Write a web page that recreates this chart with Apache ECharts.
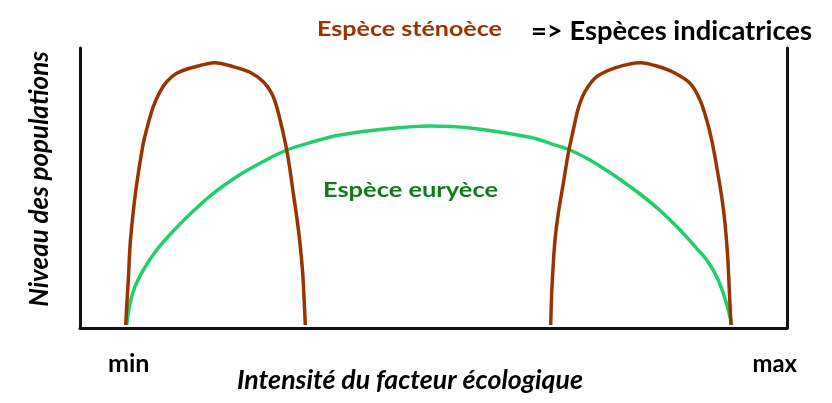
<!DOCTYPE html>
<html><head><meta charset="utf-8">
<script src="https://cdn.jsdelivr.net/npm/echarts@6/dist/echarts.min.js"></script>
<style>html,body{margin:0;padding:0;background:#fff}#c{width:832px;height:403px}</style>
</head><body><div id="c"></div>
<script>
// Data (x: intensity units, y: population level)
const stenoLeft = [[45.7,3],[46.7,21.3],[48.3,48],[50,81.3],[51.7,101.3],[55,131.3],[58.3,154.7],[63.3,184.7],[68.3,204.7],[73.3,221.3],[80,236.3],[86.7,246.3],[96.7,254.7],[113.3,260.7],[135,265.3],[153.3,261.3],[170,255.7],[183.3,246.3],[191.7,234.7],[196.7,221.3],[201.7,201.3],[206.7,178],[210,158],[213.3,134.7],[216.7,111.3],[220,84.7],[222.7,54.7],[224.3,24.7],[225.3,3]];
const stenoRight = [[470.7,3],[471.7,34.7],[473.3,64.7],[475,88],[478.3,114.7],[483.3,144.7],[488.3,174.7],[493.3,198],[498.3,219.7],[505,236.3],[516.7,251.3],[536.7,260.7],[560.7,265.3],[576.7,262],[593.3,255.7],[610,244.7],[620,228],[626.7,208],[631.7,188],[636.7,161.3],[641.7,131.3],[645,104.7],[647.7,71.3],[649.3,38],[651,3]];
const eury = [[46.7,3],[50,24.7],[55,41.3],[63.3,58],[76.7,78],[93.3,97],[113.3,117],[133.3,134.7],[156.7,151.3],[180,164.7],[206.7,178],[233.3,186.3],[260,193],[310,199.5],[350,202],[390,200],[450,190.7],[470,184.7],[490,178],[506.7,169.7],[523.3,159.7],[543.3,146.3],[560,134],[580,117.5],[600,98],[616.7,79.7],[626.7,68],[636.7,51.3],[643.3,34.7],[648.3,18],[651.7,3]];
const xRange = [0, 707];
const yRange = [0, 280];
const labels = {
  steno: 'Espèce sténoèce',
  indic: '=> Espèces indicatrices',
  eury: 'Espèce euryèce',
  min: 'min', max: 'max',
  xName: 'Intensité du facteur écologique',
  yName: 'Niveau des populations'
};

const FONT = 'Lato';
const brown = '#993300';
const green = '#1fcf6a';
const ctx = document.createElement('canvas').getContext('2d');
function fit(text, font, size, left, baseline, right, fill) {
  const f = font + ' ' + size + 'px ' + FONT;
  ctx.font = f;
  const w = ctx.measureText(text).width;
  return {type:'text', x:left, y:baseline - 0.36*size, scaleX:(right-left)/w, originX:0,
    style:{text:text, font:f, fill:fill, align:'left', verticalAlign:'middle'}};
}
const chart = echarts.init(document.getElementById('c'));
const axisLine = {show:true, lineStyle:{color:'#111', width:3}};
chart.setOption({
  animation:false,
  grid:{left:80, right:45, top:48, bottom:75},
  xAxis:{type:'value', min:xRange[0], max:xRange[1], axisLine:axisLine, axisTick:{show:false}, axisLabel:{show:false}, splitLine:{show:false}},
  yAxis:[
    {type:'value', min:yRange[0], max:yRange[1], position:'left', axisLine:axisLine, axisTick:{show:false}, axisLabel:{show:false}, splitLine:{show:false}},
    {type:'value', min:yRange[0], max:yRange[1], position:'right', axisLine:axisLine, axisTick:{show:false}, axisLabel:{show:false}, splitLine:{show:false}}
  ],
  series:[
    {type:'line', data:eury, smooth:0.35, showSymbol:false, lineStyle:{color:green, width:3.5}},
    {type:'line', data:stenoLeft, smooth:0.3, showSymbol:false, lineStyle:{color:brown, width:3.5}},
    {type:'line', data:stenoRight, smooth:0.3, showSymbol:false, lineStyle:{color:brown, width:3.5}}
  ],
  graphic:[
    fit(labels.steno, 'bold', 21, 317, 37, 502, '#993300'),
    fit(labels.indic, 'bold', 26, 531, 41, 812, '#000'),
    fit(labels.eury, 'bold', 21, 323, 197.5, 498, '#117a1e'),
    fit(labels.min, 'bold', 25, 108, 373, 149.5, '#000'),
    fit(labels.max, 'bold', 25, 752.5, 373, 797, '#000'),
    fit(labels.xName, 'italic bold', 26, 237, 390, 583, '#000'),
    {type:'text', x:40, y:179, rotation:Math.PI/2, style:{text:labels.yName, fill:'#000', font:'italic bold 26px '+FONT, align:'center', verticalAlign:'middle'}}
  ]
});
</script></body></html>
